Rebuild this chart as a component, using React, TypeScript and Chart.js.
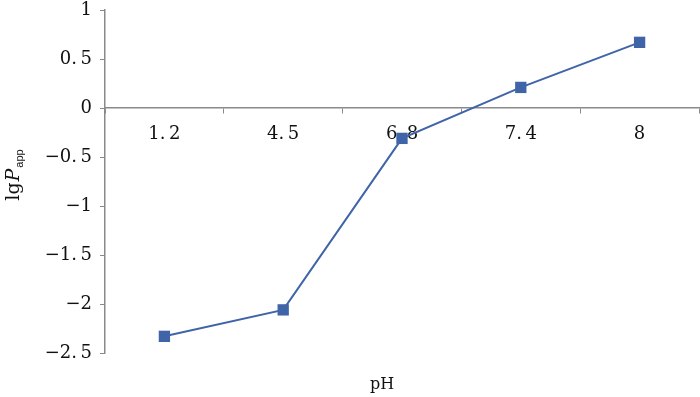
import React, { useEffect, useRef } from "react";
import { Chart, registerables } from "chart.js";

Chart.register(...registerables);

const categories = ["1.2", "4.5", "6.8", "7.4", "8"];
const lgPapp = [-2.33, -2.06, -0.31, 0.21, 0.67];
const yTicks = [-2.5, -2, -1.5, -1, -0.5, 0, 0.5, 1];

const FONT = "DejaVu Serif, serif";
const LINE = "#3f64a8";
const AXIS = "#8a8a8a";

const fmt = (s: string) => s.replace(".", ".\u2009").replace("-", "\u2212");

const titlePlugin = {
  id: "titles",
  afterDraw(chart: any) {
    const ctx = chart.ctx;
    ctx.save();
    ctx.fillStyle = "#111";
    ctx.font = `16px ${FONT}`;
    ctx.textAlign = "center";
    ctx.textBaseline = "alphabetic";
    ctx.fillText("pH", 382, 389);
    // y title, rotated
    ctx.translate(19, 175);
    ctx.rotate(-Math.PI / 2);
    const parts = [
      { t: "lg", f: `19px ${FONT}`, dy: 0, gap: 1 },
      { t: "P", f: `italic 19px ${FONT}`, dy: 0, gap: 1 },
      { t: "app", f: `11px Liberation Sans, sans-serif`, dy: 4, gap: 0 },
    ];
    let total = 0;
    for (const p of parts) {
      ctx.font = p.f;
      total += ctx.measureText(p.t).width + p.gap;
    }
    let x = -total / 2;
    ctx.textAlign = "left";
    for (const p of parts) {
      ctx.font = p.f;
      ctx.fillText(p.t, x, p.dy);
      x += ctx.measureText(p.t).width + p.gap;
    }
    ctx.restore();
  },
};

export default function App() {
  const ref = useRef<HTMLCanvasElement>(null);
  useEffect(() => {
    const chart = new Chart(ref.current!, {
      type: "line",
      data: {
        labels: categories,
        datasets: [
          {
            data: lgPapp,
            borderColor: LINE,
            backgroundColor: LINE,
            borderWidth: 2,
            pointStyle: "rect",
            pointRadius: 8,
            pointHoverRadius: 8,
            pointBorderWidth: 0,
            tension: 0,
          },
        ],
      },
      options: {
        animation: false,
        responsive: false,
        events: [],
        layout: { autoPadding: false, padding: { top: 10, right: 1, left: 0, bottom: 44 } },
        plugins: { legend: { display: false }, tooltip: { enabled: false } },
        scales: {
          x: {
            type: "category",
            position: { y: 0 } as any,
            offset: true,
            grid: { offset: true, drawOnChartArea: false, drawTicks: true, tickLength: 5, color: AXIS },
            border: { display: true, color: AXIS, width: 1.5 },
            ticks: {
              font: { family: FONT, size: 18, lineHeight: 1 },
              color: "#111",
              padding: 12,
              maxRotation: 0,
              callback: (_v: any, i: number) => fmt(categories[i]),
            },
            afterFit: (s: any) => {
              s.paddingLeft = 0;
              s.paddingRight = 0;
            },
          },
          y: {
            min: -2.5,
            max: 1,
            grid: { drawOnChartArea: false, drawTicks: true, tickLength: 5, color: AXIS },
            border: { display: true, color: AXIS, width: 1.5 },
            afterBuildTicks: (s: any) => {
              s.ticks = yTicks.map((v) => ({ value: v }));
            },
            ticks: {
              font: { family: FONT, size: 18, lineHeight: 1 },
              color: "#111",
              padding: 8,
              callback: (v: any) => fmt(String(v)),
            },
            afterFit: (s: any) => {
              s.width = 105;
              s.paddingTop = 0;
              s.paddingBottom = 0;
            },
          },
        },
      },
      plugins: [titlePlugin],
    });
    return () => chart.destroy();
  }, []);
  return (
    <div style={{ position: "fixed", left: 0, top: 0, width: 700, height: 397, background: "#fff" }}>
      <canvas ref={ref} width={700} height={397} style={{ width: 700, height: 397 }} />
    </div>
  );
}
